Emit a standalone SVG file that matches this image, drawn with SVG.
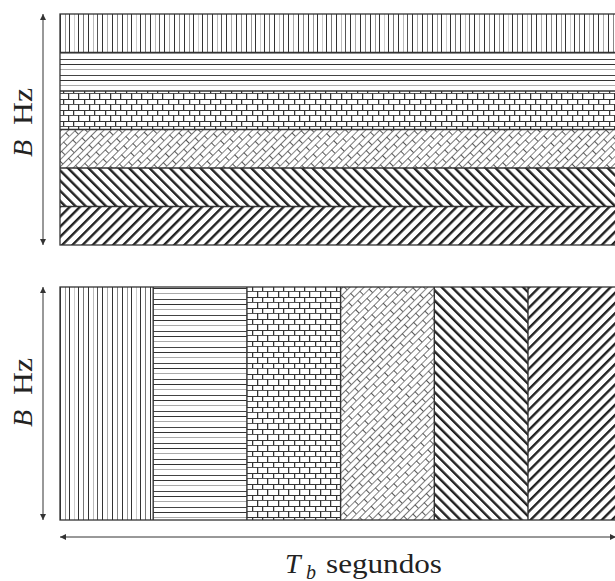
<svg xmlns="http://www.w3.org/2000/svg" width="615" height="581" viewBox="0 0 615 581">
<style>
.frame{fill:none;stroke:#333;stroke-width:1.3}
.sep{stroke:#333;stroke-width:1.4}
.conn{stroke:#333;stroke-width:1;fill:none}
.lbl{font-family:"Liberation Serif","Tinos","Noto Serif","DejaVu Serif","FreeSerif","Times New Roman",Times,serif;font-size:28px;fill:#222}
.it{font-style:italic}
</style>
<defs>
<marker id="ah" viewBox="0 0 10 10" refX="10" refY="5" markerWidth="7" markerHeight="6" markerUnits="userSpaceOnUse" orient="auto-start-reverse">
<path d="M0,0 L10,5 L0,10 Z" fill="#333"/>
</marker>
<pattern id="vlines" patternUnits="userSpaceOnUse" x="60" y="0" width="62" height="10">
<rect x="0" y="0" width="62" height="10" fill="#fff"/>
<rect x="0" width="1" height="10" fill="#333"/>
<rect x="5" width="1" height="10" fill="#999"/>
<rect x="9" width="1" height="10" fill="#333"/>
<rect x="14" width="1" height="10" fill="#ccc"/>
<rect x="18" width="1" height="10" fill="#333"/>
<rect x="23" width="1" height="10" fill="#777"/>
<rect x="28" width="1" height="10" fill="#333"/>
<rect x="33" width="1" height="10" fill="#bbb"/>
<rect x="37" width="1" height="10" fill="#555"/>
<rect x="42" width="1" height="10" fill="#333"/>
<rect x="47" width="1" height="10" fill="#aaa"/>
<rect x="52" width="1" height="10" fill="#333"/>
<rect x="57" width="1" height="10" fill="#888"/>
</pattern>
<pattern id="hlines" patternUnits="userSpaceOnUse" x="0" y="0" width="10" height="16">
<rect width="10" height="16" fill="#fff"/>
<rect y="0" width="10" height="1" fill="#333"/>
<rect y="5" width="10" height="1" fill="#aaa"/>
<rect y="11" width="10" height="1" fill="#444"/>
</pattern>
<pattern id="brick" patternUnits="userSpaceOnUse" x="0" y="0" width="21" height="11">
<rect width="21" height="11" fill="#fff"/>
<rect y="0" width="21" height="1" fill="#333"/>
<rect y="5" width="21" height="1" fill="#555"/>
<rect x="0" y="0" width="1" height="5" fill="#333"/>
<rect x="10" y="0" width="1" height="5" fill="#333"/>
<rect x="1" y="1" width="1" height="4" fill="#ccc"/>
<rect x="11" y="1" width="1" height="4" fill="#ccc"/>
<rect x="5" y="5" width="1" height="6" fill="#333"/>
<rect x="15" y="5" width="1" height="6" fill="#333"/>
<rect x="6" y="6" width="1" height="5" fill="#ccc"/>
<rect x="16" y="6" width="1" height="5" fill="#ccc"/>
</pattern>
<pattern id="weave" patternUnits="userSpaceOnUse" width="16" height="10" patternTransform="rotate(-45)">
<rect width="16" height="10" fill="#fff"/>
<rect y="0" width="16" height="1" fill="#777"/>
<rect y="5" width="16" height="1" fill="#888"/>
<rect x="0" y="0" width="1" height="5" fill="#555"/>
<rect x="8" y="5" width="1" height="5" fill="#555"/>
</pattern>
<pattern id="dback" patternUnits="userSpaceOnUse" width="7.2" height="7.2" patternTransform="rotate(-45)">
<rect width="7.2" height="7.2" fill="#fff"/>
<rect x="0" width="2.4" height="7.2" fill="#222"/>
</pattern>
<pattern id="dfwd" patternUnits="userSpaceOnUse" width="7.2" height="7.2" patternTransform="rotate(45)">
<rect width="7.2" height="7.2" fill="#fff"/>
<rect x="0" width="2.4" height="7.2" fill="#222"/>
</pattern>
</defs>
<rect width="615" height="581" fill="#fff"/>

<g id="top-panel">
<g id="band-vertical"><rect x="60" y="14" width="560" height="38.5" fill="url(#vlines)"/></g>
<g id="band-horizontal"><rect x="60" y="52.5" width="560" height="38.5" fill="url(#hlines)"/></g>
<g id="band-brick"><rect x="60" y="91" width="560" height="38.5" fill="url(#brick)"/></g>
<g id="band-weave"><rect x="60" y="129.5" width="560" height="38.5" fill="url(#weave)"/></g>
<g id="band-diag-back"><rect x="60" y="168" width="560" height="38.5" fill="url(#dback)"/></g>
<g id="band-diag-fwd"><rect x="60" y="206.5" width="560" height="38.5" fill="url(#dfwd)"/></g>
<g id="top-frame">
<line class="sep" x1="60" y1="52.5" x2="620" y2="52.5"/>
<line class="sep" x1="60" y1="91" x2="620" y2="91"/>
<line class="sep" x1="60" y1="129.5" x2="620" y2="129.5"/>
<line class="sep" x1="60" y1="168" x2="620" y2="168"/>
<line class="sep" x1="60" y1="206.5" x2="620" y2="206.5"/>
<rect class="frame" x="60" y="14" width="560" height="231"/>
</g>
</g>

<g id="bottom-panel">
<g id="col-vertical"><rect x="60" y="287" width="93.2" height="233" fill="url(#vlines)"/></g>
<g id="col-horizontal"><rect x="153.2" y="287" width="93.7" height="233" fill="url(#hlines)"/></g>
<g id="col-brick"><rect x="246.9" y="287" width="93.7" height="233" fill="url(#brick)"/></g>
<g id="col-weave"><rect x="340.6" y="287" width="93.7" height="233" fill="url(#weave)"/></g>
<g id="col-diag-back"><rect x="434.3" y="287" width="93.7" height="233" fill="url(#dback)"/></g>
<g id="col-diag-fwd"><rect x="528" y="287" width="92" height="233" fill="url(#dfwd)"/></g>
<g id="bottom-frame">
<line class="sep" x1="153.2" y1="287" x2="153.2" y2="520"/>
<line class="sep" x1="246.9" y1="287" x2="246.9" y2="520"/>
<line class="sep" x1="340.6" y1="287" x2="340.6" y2="520"/>
<line class="sep" x1="434.3" y1="287" x2="434.3" y2="520"/>
<line class="sep" x1="528" y1="287" x2="528" y2="520"/>
<rect class="frame" x="60" y="287" width="560" height="233"/>
</g>
</g>

<g id="connectors">
<line class="conn" x1="43" y1="14" x2="43" y2="245" marker-start="url(#ah)" marker-end="url(#ah)"/>
<line class="conn" x1="43" y1="287" x2="43" y2="520" marker-start="url(#ah)" marker-end="url(#ah)"/>
<line class="conn" x1="60" y1="537" x2="616" y2="537" marker-start="url(#ah)" marker-end="url(#ah)"/>
</g>

<g id="labels">
<g transform="translate(32,157) rotate(-90)">
<text class="lbl it" x="0" y="0">B</text>
<text class="lbl" x="32" y="0" textLength="37" lengthAdjust="spacingAndGlyphs">Hz</text>
</g>
<g transform="translate(32,427) rotate(-90)">
<text class="lbl it" x="0" y="0">B</text>
<text class="lbl" x="32" y="0" textLength="37" lengthAdjust="spacingAndGlyphs">Hz</text>
</g>
<text class="lbl it" x="285" y="573">T</text>
<text class="lbl it" x="306" y="579" font-size="20px" style="font-size:20px">b</text>
<text class="lbl" x="326" y="573" textLength="116" lengthAdjust="spacingAndGlyphs">segundos</text>
</g>
</svg>
